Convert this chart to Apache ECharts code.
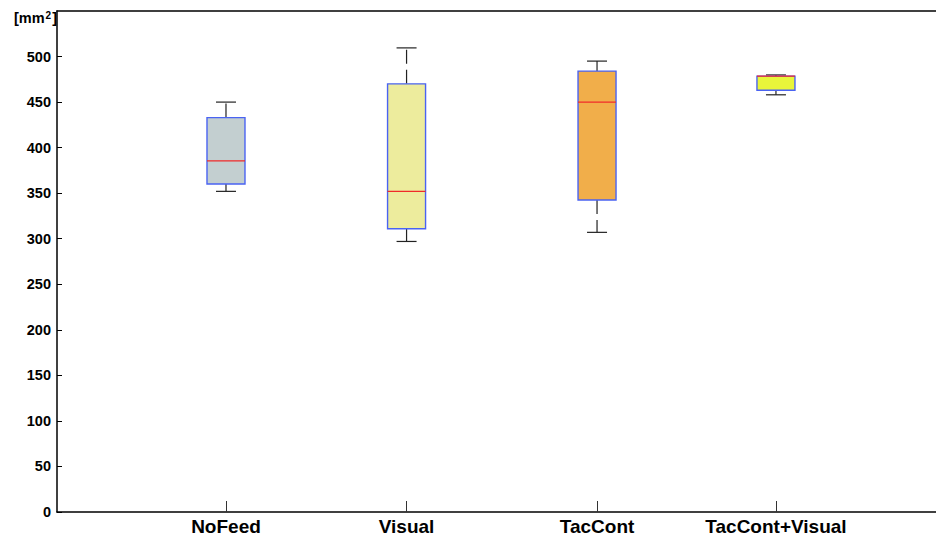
<!DOCTYPE html>
<html>
<head>
<meta charset="utf-8">
<script src="https://cdn.jsdelivr.net/npm/echarts@6/dist/echarts.min.js"></script>
<style>
html,body{margin:0;padding:0;background:#fff;}
#chart{width:936px;height:538px;}
</style>
</head>
<body>
<div id="chart"></div>
<script>
// ---- data ----
var categories = ['NoFeed', 'Visual', 'TacCont', 'TacCont+Visual'];
var xPositions = [1, 1.985, 3.024, 4];
var lowerWhisker = [352, 297, 307, 458];
var q1 = [360, 311, 342.5, 463];
var median = [385.5, 352, 450, 478.5];
var q3 = [433, 470, 484, 478.5];
var upperWhisker = [450, 509.5, 495, 479.8];
var fillColors = ['#C3CFD0', '#EDEC9D', '#F1AE4A', '#E9F53A'];
var yTicks = [0, 50, 100, 150, 200, 250, 300, 350, 400, 450, 500];

var FONT = '"Liberation Sans", Arial, sans-serif';

var seriesData = categories.map(function (c, i) {
  return [xPositions[i], lowerWhisker[i], q1[i], median[i], q3[i], upperWhisker[i]];
});

function renderItem(params, api) {
  var x = api.value(0);
  var lw = api.coord([x, api.value(1)]);
  var b1 = api.coord([x, api.value(2)]);
  var md = api.coord([x, api.value(3)]);
  var b3 = api.coord([x, api.value(4)]);
  var uw = api.coord([x, api.value(5)]);
  var cx = lw[0];
  var half = 19;
  var capHalf = 10;
  var idx = params.dataIndex;
  var whiskerStyle = { stroke: '#222222', lineWidth: 1.2, lineDash: [14, 6] };
  var capStyle = { stroke: '#222222', lineWidth: 1.2 };
  return {
    type: 'group',
    children: [
      { type: 'line', shape: { x1: cx, y1: b3[1], x2: cx, y2: uw[1] }, style: whiskerStyle },
      { type: 'line', shape: { x1: cx, y1: b1[1], x2: cx, y2: lw[1] }, style: whiskerStyle },
      { type: 'line', shape: { x1: cx - capHalf, y1: uw[1], x2: cx + capHalf, y2: uw[1] }, style: capStyle },
      { type: 'line', shape: { x1: cx - capHalf, y1: lw[1], x2: cx + capHalf, y2: lw[1] }, style: capStyle },
      { type: 'rect', shape: { x: cx - half, y: b3[1], width: half * 2, height: b1[1] - b3[1] },
        style: { fill: fillColors[idx], stroke: '#4A63F2', lineWidth: 1.4 } },
      { type: 'line', shape: { x1: cx - half, y1: md[1], x2: cx + half, y2: md[1] },
        style: { stroke: '#F02A2A', lineWidth: 1.3 } }
    ]
  };
}

var chart = echarts.init(document.getElementById('chart'), null, { renderer: 'svg' });
chart.setOption({
  animation: false,
  backgroundColor: '#ffffff',
  title: {
    text: '[mm{s|2}]',
    left: 9,
    top: 5,
    textStyle: {
      fontFamily: FONT, fontSize: 14.5, fontWeight: 'bold', color: '#000',
      rich: { s: { fontFamily: FONT, fontSize: 10, fontWeight: 'bold', color: '#000', padding: [0, 1, 6, 1] } }
    }
  },
  grid: { left: 57, right: 0, top: 11, bottom: 26, containLabel: false },
  xAxis: [{
    type: 'value',
    min: 0.0782,
    max: 4.873,
    splitLine: { show: false },
    axisLine: { show: true, onZero: false, lineStyle: { color: '#000', width: 1.5 } },
    axisTick: { show: true, inside: true, length: 11, customValues: xPositions, lineStyle: { color: '#333', width: 1 } },
    axisLabel: {
      show: true, customValues: xPositions, margin: 5,
      fontFamily: FONT, fontSize: 19, fontWeight: 'bold', color: '#000',
      formatter: function (v) {
        var k = 0, best = 1e9;
        for (var i = 0; i < xPositions.length; i++) {
          var d = Math.abs(xPositions[i] - v);
          if (d < best) { best = d; k = i; }
        }
        return categories[k];
      }
    }
  }, {
    type: 'value',
    position: 'top',
    min: 0.0782,
    max: 4.873,
    splitLine: { show: false },
    axisLine: { show: true, onZero: false, lineStyle: { color: '#000', width: 1.5 } },
    axisTick: { show: false },
    axisLabel: { show: false }
  }],
  yAxis: {
    type: 'value',
    min: 0,
    max: 550,
    interval: 50,
    splitLine: { show: false },
    axisLine: { show: true, onZero: false, lineStyle: { color: '#000', width: 1.5 } },
    axisTick: { show: true, inside: true, length: 5, customValues: yTicks, lineStyle: { color: '#000', width: 1 } },
    axisLabel: {
      customValues: yTicks, margin: 6,
      fontFamily: FONT, fontSize: 14.5, fontWeight: 'bold', color: '#000'
    }
  },
  series: [{
    type: 'custom',
    xAxisIndex: 0,
    yAxisIndex: 0,
    renderItem: renderItem,
    encode: { x: 0, y: [1, 2, 3, 4, 5] },
    data: seriesData
  }]
});
</script>
</body>
</html>
